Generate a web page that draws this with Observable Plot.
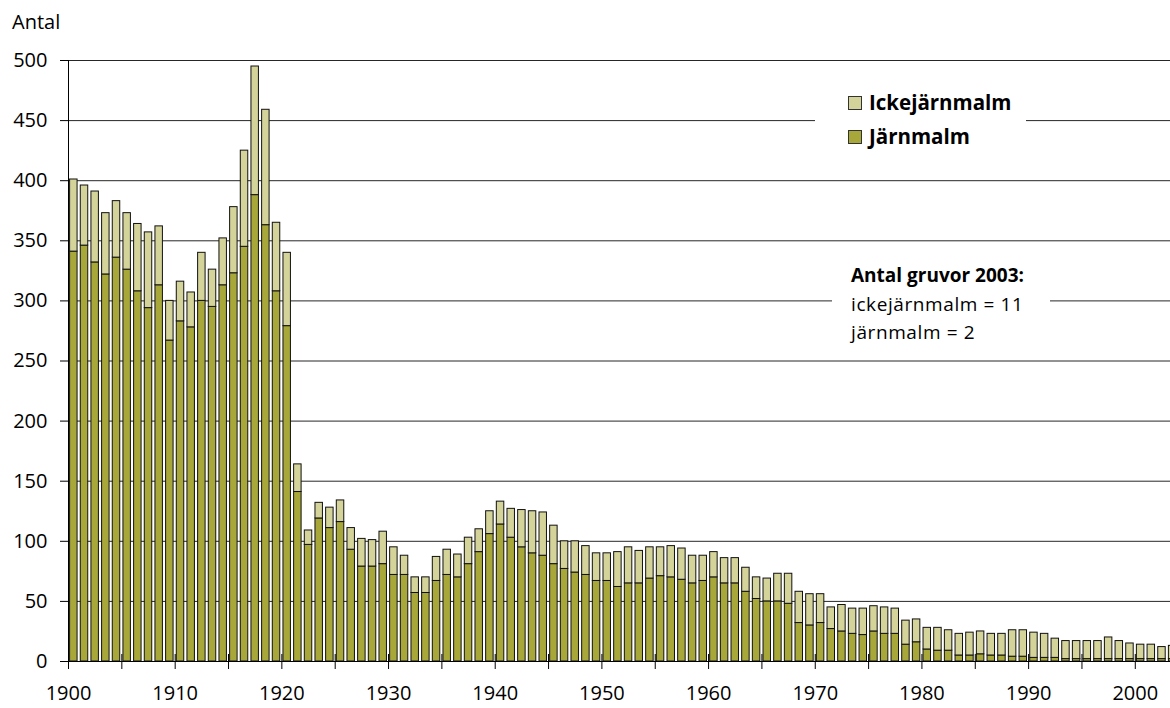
<!DOCTYPE html>
<html>
<head>
<meta charset="utf-8">
<script src="https://cdn.jsdelivr.net/npm/d3@7"></script>
<script src="https://cdn.jsdelivr.net/npm/@observablehq/plot@0.6"></script>
<style>
  body { margin: 0; background: #fff; font-family: "Open Sans", "Noto Sans", sans-serif; }
  #wrap { position: relative; width: 1170px; height: 708px; overflow: hidden; }
  #wrap svg { position: absolute; left: 0; top: 0; }
  .ov { position: absolute; color: #000; white-space: nowrap; line-height: 1; }
  .box { position: absolute; background: #fff; }
  .sw { position: absolute; width: 14px; height: 14px; border: 1px solid #333; box-sizing: border-box; }
</style>
</head>
<body>
<div id="wrap"></div>
<script>
// Years 1900–2003
const years = d3.range(1900, 2004);
// Number of iron-ore mines (Järnmalm)
const jarnmalm = [
  341, 346, 332, 322, 336, 326, 308, 294, 313, 267,
  283, 278, 300, 295, 313, 323, 345, 388, 363, 308,
  279, 141, 97, 119, 111, 116, 93, 79, 79, 81,
  72, 72, 57, 57, 67, 72, 70, 81, 91, 106,
  114, 103, 95, 90, 88, 81, 77, 74, 72, 67,
  67, 62, 65, 65, 69, 71, 70, 68, 65, 67,
  70, 65, 65, 58, 52, 50, 50, 48, 32, 30,
  32, 27, 25, 23, 22, 25, 23, 23, 14, 16,
  10, 9, 9, 5, 5, 6, 5, 5, 4, 4,
  3, 3, 3, 2, 2, 2, 2, 2, 2, 2,
  2, 2, 2, 2
];
// Number of non-iron-ore mines (Ickejärnmalm)
const ickejarnmalm = [
  60, 50, 59, 51, 47, 47, 56, 63, 49, 33,
  33, 29, 40, 31, 39, 55, 80, 107, 96, 57,
  61, 23, 12, 13, 17, 18, 18, 23, 22, 27,
  23, 16, 13, 13, 20, 21, 19, 22, 19, 19,
  19, 24, 31, 35, 36, 32, 23, 26, 24, 23,
  23, 29, 30, 27, 26, 24, 26, 26, 23, 21,
  21, 21, 21, 20, 18, 19, 23, 25, 26, 26,
  24, 18, 22, 21, 22, 21, 22, 21, 20, 19,
  18, 19, 17, 18, 19, 19, 18, 18, 22, 22,
  21, 20, 16, 15, 15, 15, 15, 18, 15, 13,
  12, 12, 10, 11
];
const seriesNames = ["Järnmalm", "Ickejärnmalm"];
const seriesColors = ["#a8a83a", "#d4d39a"];
const yTicks = [0, 50, 100, 150, 200, 250, 300, 350, 400, 450, 500];
const xLabelYears = [1900, 1910, 1920, 1930, 1940, 1950, 1960, 1970, 1980, 1990, 2000];
const xTickYears = d3.range(1900, 2004, 5);

const rows = [];
years.forEach((yr, i) => {
  rows.push({year: yr, serie: "Järnmalm", value: jarnmalm[i]});
  rows.push({year: yr, serie: "Ickejärnmalm", value: ickejarnmalm[i]});
});

const chart = Plot.plot({
  width: 1170,
  height: 708,
  marginLeft: 68,
  marginRight: 0,
  marginTop: 60,
  marginBottom: 47,
  style: {fontFamily: "'Open Sans', 'Noto Sans', sans-serif", fontSize: "20px", color: "#000", background: "#fff"},
  x: {domain: [1900, 2003.3], axis: null},
  y: {domain: [0, 500], axis: null},
  color: {domain: seriesNames, range: seriesColors},
  marks: [
    Plot.gridY(yTicks, {stroke: "#000", strokeOpacity: 0.85, strokeWidth: 1}),
    Plot.rectY(rows, Plot.stackY({
      x1: "year",
      x2: d => d.year + 1,
      y: "value",
      fill: "serie",
      order: seriesNames,
      stroke: "#111",
      strokeWidth: 1,
      insetLeft: 1.6,
      insetRight: 1.6,
      clip: true
    })),
    Plot.ruleY([0], {stroke: "#000"}),
    Plot.ruleX([1900], {y1: 0, y2: 500, stroke: "#000"}),
    Plot.axisY({ticks: yTicks, label: null, tickSize: 8, tickPadding: 13, fontSize: 20, stroke: "#000"}),
    Plot.axisX({ticks: xTickYears, label: null, tickSize: 15, dy: -7, tickFormat: () => "", stroke: "#000"}),
    Plot.axisX({ticks: xLabelYears, label: null, tickSize: 0, tickPadding: 24, fontSize: 20, tickFormat: d => String(d)})
  ]
});

const wrap = document.getElementById("wrap");
wrap.appendChild(chart);

function addDiv(cls, styles, text) {
  const d = document.createElement("div");
  d.className = cls;
  Object.assign(d.style, styles);
  if (text) d.textContent = text;
  wrap.appendChild(d);
  return d;
}
// y-axis title
addDiv("ov", {left: "12px", top: "12px", fontSize: "20px"}, "Antal");
// legend
addDiv("box", {left: "815px", top: "86px", width: "211px", height: "66px"});
addDiv("sw", {left: "848px", top: "96px", background: seriesColors[1]});
addDiv("ov", {left: "869px", top: "92px", fontSize: "20.5px", fontWeight: "700"}, "Ickejärnmalm");
addDiv("sw", {left: "848px", top: "130px", background: seriesColors[0]});
addDiv("ov", {left: "869px", top: "126px", fontSize: "20.5px", fontWeight: "700"}, "Järnmalm");
// annotation
addDiv("box", {left: "832px", top: "290px", width: "218px", height: "22px"});
addDiv("ov", {left: "851px", top: "266px", fontSize: "19px", fontWeight: "700"}, "Antal gruvor 2003:");
addDiv("ov", {left: "851px", top: "295px", fontSize: "19px", letterSpacing: "0.6px"}, "ickejärnmalm = 11");
addDiv("ov", {left: "851px", top: "323px", fontSize: "19px", letterSpacing: "0.6px"}, "järnmalm = 2");
</script>
</body>
</html>
